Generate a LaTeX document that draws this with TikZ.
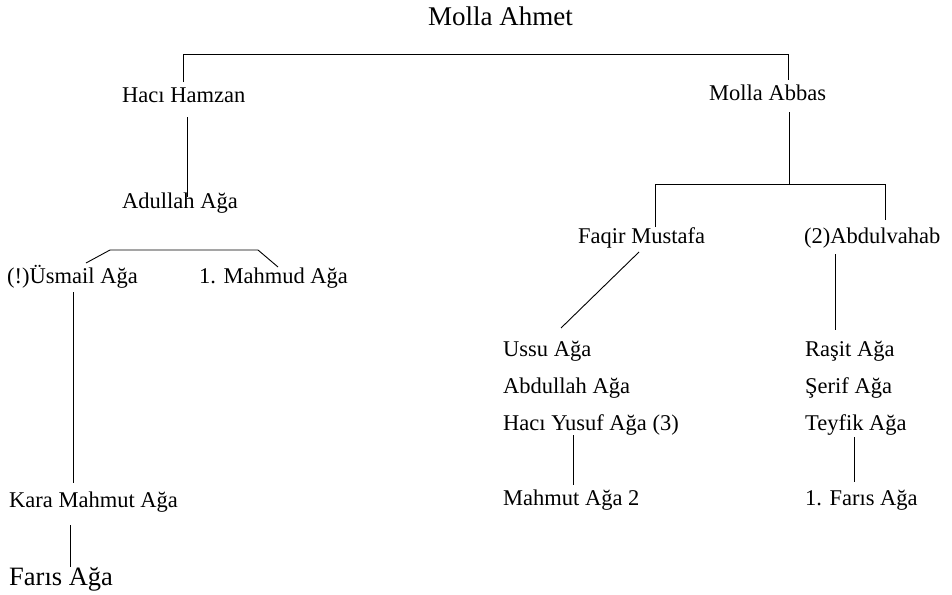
\documentclass[tikz,border=0pt]{standalone}
\usepackage{fontspec}
\setmainfont{Liberation Serif}
\begin{document}
\begin{tikzpicture}[x=1pt,y=-1pt,
  lbl/.style={inner sep=0pt, anchor=base west, font=\fontsize{22.5}{27}\selectfont},
  big/.style={lbl, font=\fontsize{27}{32}\selectfont},
  mid/.style={lbl, font=\fontsize{26.5}{31}\selectfont},
  link/.style={draw=black, line width=0.9pt}]
\useasboundingbox (0,0) rectangle (952,594);
% people
\node[big] (ahmet) at (428,26) {Molla Ahmet};
\node[lbl] (hamzan) at (122,102) {Hacı Hamzan};
\node[lbl] (abbas) at (709,100) {Molla Abbas};
\node[lbl] (adullah) at (122,208) {Adullah Ağa};
\node[lbl] (usmail) at (7,283) {(!)Üsmail Ağa};
\node[lbl] (mahmud) at (199,283) {1. Mahmud Ağa};
\node[lbl] (kara) at (9,507) {Kara Mahmut Ağa};
\node[mid] (faris) at (9,585) {Farıs Ağa};
\node[lbl] (faqir) at (578,243) {Faqir Mustafa};
\node[lbl] (abdulvahab) at (804,243) {(2)Abdulvahab};
\node[lbl] (ussu) at (503,356) {Ussu Ağa};
\node[lbl] (abdullah) at (503,393) {Abdullah Ağa};
\node[lbl] (yusuf) at (503,430) {Hacı Yusuf Ağa (3)};
\node[lbl] (mahmut2) at (503,505) {Mahmut Ağa 2};
\node[lbl] (rasit) at (805,356) {Raşit Ağa};
\node[lbl] (serif) at (805,393) {Şerif Ağa};
\node[lbl] (teyfik) at (805,430) {Teyfik Ağa};
\node[lbl] (faris1) at (805,505) {1. Farıs Ağa};
% connector end points
\coordinate (c1a) at (183,82);  \coordinate (c1b) at (183,54);
\coordinate (c1c) at (788,54);  \coordinate (c1d) at (788,80);
\coordinate (c2a) at (187,117); \coordinate (c2b) at (187,197);
\coordinate (c3a) at (86,263);  \coordinate (c3b) at (110,250);
\coordinate (c3c) at (258,250); \coordinate (c3d) at (278,267);
\coordinate (c4a) at (73,292);  \coordinate (c4b) at (73,483);
\coordinate (c5a) at (70,525);  \coordinate (c5b) at (70,567);
\coordinate (c6a) at (789,112); \coordinate (c6b) at (789,184);
\coordinate (c7a) at (655,227); \coordinate (c7b) at (655,184);
\coordinate (c7c) at (885,184); \coordinate (c7d) at (885,220);
\coordinate (c8a) at (639,252); \coordinate (c8b) at (561,328);
\coordinate (c9a) at (835,254); \coordinate (c9b) at (835,330);
\coordinate (c10a) at (573,435); \coordinate (c10b) at (573,485);
\coordinate (c11a) at (854,437); \coordinate (c11b) at (854,482);
% connectors
\draw[link] (c1a) -- (c1b) -- (c1c) -- (c1d);
\draw[link] (c2a) -- (c2b);
\draw[link] (c3a) -- (c3b) -- (c3c) -- (c3d);
\draw[link] (c4a) -- (c4b);
\draw[link] (c5a) -- (c5b);
\draw[link] (c6a) -- (c6b);
\draw[link] (c7a) -- (c7b) -- (c7c) -- (c7d);
\draw[link] (c8a) -- (c8b);
\draw[link] (c9a) -- (c9b);
\draw[link] (c10a) -- (c10b);
\draw[link] (c11a) -- (c11b);
\end{tikzpicture}
\end{document}
